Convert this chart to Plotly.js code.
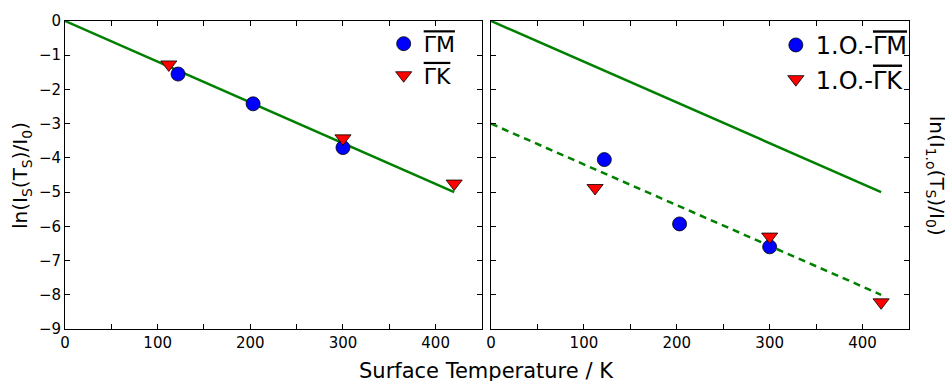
<!DOCTYPE html>
<html>
<head>
<meta charset="utf-8">
<script src="https://cdn.plot.ly/plotly-3.0.1.min.js"></script>
<style>html,body{margin:0;padding:0;background:#fff;}#chart{width:945px;height:381px;}</style>
</head>
<body>
<div id="chart"></div>
<script>
// ---- data ----
const gmT = [122, 203, 300];
const gmLn = [-1.55, -2.42, -3.70];
const gkT = [112, 300, 420];
const gkLn = [-1.27, -3.43, -4.75];
const fitT = [0, 420];
const fitLn = [0, -5];
const gm1oT = [122, 203, 300];
const gm1oLn = [-4.05, -5.93, -6.60];
const gk1oT = [112, 300, 420];
const gk1oLn = [-4.88, -6.30, -8.22];
const fit1oLn = [-3, -8];
const xTickVals = [0, 100, 200, 300, 400];
const yTickVals = [0, -1, -2, -3, -4, -5, -6, -7, -8, -9];
const ol = (s) => '<span style="text-decoration:overline">' + s + '</span>';
const gmName = ol('ΓM');
const gkName = ol('ΓK');
const gm1oName = '1.O.-' + ol('ΓM');
const gk1oName = '1.O.-' + ol('ΓK');

const FONT = 'DejaVu Sans, sans-serif';
const green = '#008000';
const circ = {symbol: 'circle', size: 14, color: '#0000ff', line: {color: '#000', width: 0.8}};
const tri = {symbol: 'triangle-down', size: 14, color: '#ff0000', line: {color: '#000', width: 0.8}};

const traces = [
  {x: fitT, y: fitLn, mode: 'lines', line: {color: green, width: 2.5}, showlegend: false, xaxis: 'x', yaxis: 'y'},
  {x: gmT, y: gmLn, mode: 'markers', marker: circ, name: gmName, legend: 'legend', xaxis: 'x', yaxis: 'y'},
  {x: gkT, y: gkLn, mode: 'markers', marker: tri, name: gkName, legend: 'legend', xaxis: 'x', yaxis: 'y'},
  {x: fitT, y: fitLn, mode: 'lines', line: {color: green, width: 2.5}, showlegend: false, xaxis: 'x2', yaxis: 'y2'},
  {x: fitT, y: fit1oLn, mode: 'lines', line: {color: green, width: 2.5, dash: '7px,5px'}, showlegend: false, xaxis: 'x2', yaxis: 'y2'},
  {x: gm1oT, y: gm1oLn, mode: 'markers', marker: circ, name: gm1oName, legend: 'legend2', xaxis: 'x2', yaxis: 'y2'},
  {x: gk1oT, y: gk1oLn, mode: 'markers', marker: tri, name: gk1oName, legend: 'legend2', xaxis: 'x2', yaxis: 'y2'}
];

const xAx = (dom) => ({
  domain: dom, range: [0, 450], tickvals: xTickVals, ticktext: xTickVals.map(String),
  ticks: 'inside', ticklen: 5, tickcolor: '#000', showline: true, linecolor: '#000', linewidth: 1,
  mirror: 'ticks', showgrid: false, zeroline: false,
  tickfont: {family: FONT, size: 15, color: '#000'},
  minor: {dtick: 50, tick0: 0, ticks: 'inside', ticklen: 5, tickcolor: '#000', showgrid: false}
});
const yAx = (labels) => ({
  domain: [0.1365, 0.9449], range: [-9, 0], tickvals: yTickVals,
  ticks: 'inside', ticklen: 5, tickcolor: '#000', showline: true, linecolor: '#000', linewidth: 1,
  mirror: 'ticks', showgrid: false, zeroline: false, showticklabels: labels,
  tickfont: {family: FONT, size: 15, color: '#000'}
});

const layout = {
  width: 945, height: 381,
  margin: {l: 0, r: 0, t: 0, b: 0},
  paper_bgcolor: '#fff', plot_bgcolor: '#fff',
  font: {family: FONT, color: '#000'},
  xaxis: xAx([0.0688, 0.5100]),
  yaxis: yAx(true),
  xaxis2: Object.assign(xAx([0.5196, 0.9619]), {anchor: 'y2'}),
  yaxis2: Object.assign(yAx(false), {anchor: 'x2'}),
  legend: {x: 0.406, y: 0.94, xanchor: 'left', yanchor: 'top', bgcolor: 'rgba(0,0,0,0)',
           font: {family: FONT, size: 22, color: '#000'}, itemwidth: 30},
  legend2: {x: 0.821, y: 0.94, xanchor: 'left', yanchor: 'top', bgcolor: 'rgba(0,0,0,0)',
            font: {family: FONT, size: 24, color: '#000'}, itemwidth: 30},
  annotations: [
    {text: 'Surface Temperature / K', xref: 'paper', yref: 'paper', x: 0.515, y: -0.01,
     xanchor: 'center', yanchor: 'bottom', showarrow: false, font: {family: FONT, size: 21, color: '#000'}},
    {text: 'ln(I<sub>S</sub>(T<sub>S</sub>)/I<sub>0</sub>)', xref: 'paper', yref: 'paper', x: 0.023, y: 0.54,
     xanchor: 'center', yanchor: 'middle', textangle: -90, showarrow: false, font: {family: FONT, size: 20, color: '#000'}},
    {text: 'ln(I<sub>1.o</sub>(T<sub>S</sub>)/I<sub>0</sub>)', xref: 'paper', yref: 'paper', x: 0.99, y: 0.54,
     xanchor: 'center', yanchor: 'middle', textangle: 90, showarrow: false, font: {family: FONT, size: 20, color: '#000'}}
  ]
};

Plotly.newPlot('chart', traces, layout, {staticPlot: true, displayModeBar: false});
</script>
</body>
</html>
